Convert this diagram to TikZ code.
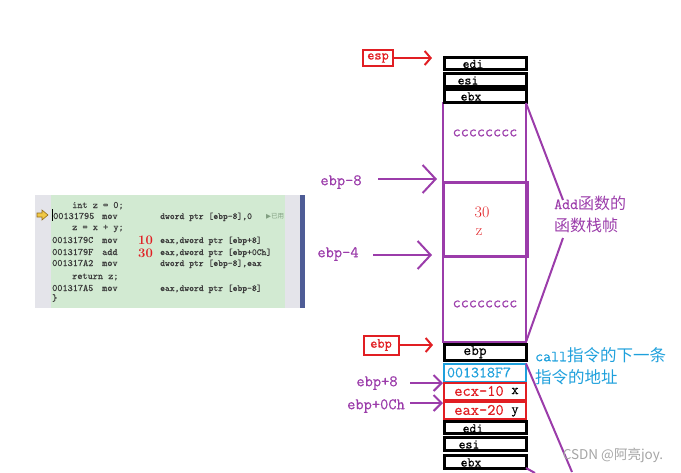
\documentclass[tikz,border=0pt]{standalone}
\usepackage{fontspec}
\newfontfamily\cjk{Noto Sans CJK SC}
\newfontfamily\dejavu{DejaVu Sans}
\newfontfamily\mono{Latin Modern Mono}[FakeBold=0.5]
\newfontfamily\monolight{Latin Modern Mono}[FakeBold=0.5]
\usetikzlibrary{arrows.meta}
\definecolor{purp}{RGB}{155,60,170}
\definecolor{myred}{RGB}{225,30,35}
\definecolor{mycyan}{RGB}{30,160,220}
\definecolor{codegreen}{RGB}{210,234,210}
\definecolor{codegray}{RGB}{228,228,234}
\definecolor{barblue}{RGB}{78,92,150}
\definecolor{wmgray}{RGB}{165,165,165}
\definecolor{codetxt}{RGB}{60,60,60}
\definecolor{tagtxt}{RGB}{130,160,130}
\definecolor{iconfill}{RGB}{240,200,70}
\definecolor{icondraw}{RGB}{150,110,30}
\newcommand\fs[1]{\fontsize{#1}{#1}\selectfont}
\begin{document}
\begin{tikzpicture}[x=1pt,y=-1pt,font=\mono,
  stk/.style={draw=black,line width=3pt,minimum width=82pt,inner sep=0pt,outer sep=0pt},
  lab/.style={font=\mono\fs{13.5},inner sep=0pt},
  redbox/.style={draw=myred,line width=2pt,text=myred,font=\mono\fs{14},inner sep=0pt,outer sep=0pt},
  redarr/.style={draw=myred,line width=2pt,-{Straight Barb[length=6pt,width=14pt]}},
  parr/.style={draw=purp,line width=2pt,-{Straight Barb[length=13pt,width=28pt]}},
  sparr/.style={draw=purp,line width=2pt,-{Straight Barb[length=8pt,width=16pt]}},
  pline/.style={draw=purp,line width=2pt},
  plab/.style={text=purp,font=\mono\fs{16},inner sep=0pt},
  code/.style={anchor=base west,inner sep=0pt,text=codetxt,font=\monolight\fs{9.8}},
  ops/.style={code,font=\monolight\fs{9.2}},
  rnum/.style={anchor=base west,inner sep=0pt,text=myred,font=\bfseries\fs{13}}
]
\useasboundingbox (0,0) rectangle (681,472);

% ---------- code panel ----------
\fill[codegray] (35,195) rectangle (300,308);
\fill[codegreen] (51,195) rectangle (285,308);
\fill[barblue] (300,195) rectangle (305,308);
\filldraw[fill=iconfill,draw=icondraw,line width=0.6pt]
  (37,213) -- (42,213) -- (42,210) -- (48,215) -- (42,220) -- (42,217) -- (37,217) -- cycle;
\draw[black,line width=0.5pt] (52,209) -- (52,221);

\node[code] (c1) at (72,208) {int z = 0;};
\node[code] (c2) at (53,219) {00131795};
\node[code] (c3) at (102,219) {mov};
\node[ops] (c4) at (160,219) {dword ptr [ebp-8],0};
\node[anchor=base west,inner sep=0pt,text=tagtxt,font=\fs{6.5}] (c5) at (266,218) {{\dejavu ▶}{\cjk 已用}};
\node[code] (c6) at (72,230) {z = x + y;};
\node[code] (c7) at (52,243) {0013179C};
\node[code] (c8) at (102,243) {mov};
\node[rnum] (c9) at (138,244) {10};
\node[ops] (c10) at (160,243) {eax,dword ptr [ebp+8]};
\node[code] (c11) at (52,255) {0013179F};
\node[code] (c12) at (102,255) {add};
\node[rnum] (c13) at (138,257) {30};
\node[ops] (c14) at (160,255) {eax,dword ptr [ebp+0Ch]};
\node[code] (c15) at (52,266) {001317A2};
\node[code] (c16) at (102,266) {mov};
\node[ops] (c17) at (160,266) {dword ptr [ebp-8],eax};
\node[code] (c18) at (72,279) {return z;};
\node[code] (c19) at (52,291) {001317A5};
\node[code] (c20) at (102,291) {mov};
\node[ops] (c21) at (160,291) {eax,dword ptr [ebp-8]};
\node[code] (c22) at (52,301) {\}};

% ---------- stack ----------
\node[draw=purp,line width=2pt,minimum width=83pt,minimum height=239pt,inner sep=0pt,outer sep=0pt] (frame) at (484.5,222.5) {};
\node[draw=purp,line width=3pt,minimum width=84pt,minimum height=74pt,inner sep=0pt,outer sep=0pt] (zbox) at (485,219) {};
\node[plab,font=\mono\fs{15.7}] (cc1) at (485,133) {cccccccc};
\node[plab,font=\mono\fs{15.7}] (cc2) at (485,304) {cccccccc};
\node[text=myred,font=\fs{16},inner sep=0pt] (n30) at (482,212) {30};
\node[text=myred,font=\fs{16},inner sep=0pt] (nz) at (479,232) {z};

\node[stk,minimum height=12pt,label={[lab,xshift=-12pt,yshift=-1pt]center:edi}] (edi1) at (485,63) {};
\node[stk,minimum height=13pt,label={[lab,xshift=-17pt,yshift=-1pt]center:esi}] (esi1) at (485,79.5) {};
\node[stk,minimum height=13pt,label={[lab,xshift=-14pt,yshift=-1pt]center:ebx}] (ebx1) at (485,95.5) {};

\node[stk,minimum height=16pt,label={[lab,font=\mono\fs{15},xshift=-10pt]center:ebp}] (ebps) at (485,352) {};
\node[stk,draw=mycyan,line width=2pt,minimum height=18pt,label={[lab,font=\mono\fs{15.5},text=mycyan,xshift=-6pt]center:001318F7}] (cyb) at (485,372.5) {};
\node[stk,draw=myred,line width=2pt,minimum height=17pt,
  label={[lab,font=\mono\fs{16},text=myred,xshift=-6pt]center:ecx-10},
  label={[lab,font=\mono\fs{14},xshift=30pt]center:x}] (ecxb) at (485,391) {};
\node[stk,draw=myred,line width=2pt,minimum height=17pt,
  label={[lab,font=\mono\fs{16},text=myred,xshift=-6pt]center:eax-20},
  label={[lab,font=\mono\fs{14},xshift=30pt,yshift=-2pt]center:y}] (eaxb) at (485,410) {};
\node[stk,minimum height=12pt,label={[lab,xshift=-12pt,yshift=-1pt]center:edi}] (edi2) at (485,427.5) {};
\node[stk,minimum height=13pt,label={[lab,xshift=-16pt,yshift=-1pt]center:esi}] (esi2) at (485,443.5) {};
\node[stk,minimum height=13pt,label={[lab,xshift=-14pt,yshift=-1pt]center:ebx}] (ebx2) at (485,461.5) {};

% ---------- left pointers ----------
\node[redbox,minimum width=30pt,minimum height=16pt] (espb) at (378,58) {esp};
\coordinate (esptip) at (432,58);
\draw[redarr] (espb.east) -- (esptip);

\node[redbox,minimum width=35pt,minimum height=19pt] (ebpb) at (381,345) {ebp};
\coordinate (ebptip) at (433,345);
\draw[redarr] (ebpb.east) -- (ebptip);

\node[plab] (lm8) at (341,182) {ebp-8};
\coordinate (s8) at (378,179);
\coordinate (t8) at (437,179);
\draw[parr] (s8) -- (t8);

\node[plab] (lm4) at (338,254) {ebp-4};
\coordinate (s4) at (373,255);
\coordinate (t4) at (432,255);
\draw[parr] (s4) -- (t4);

\node[plab] (lp8) at (377,383) {ebp+8};
\coordinate (sp8) at (410,383);
\coordinate (tp8) at (443,383);
\draw[sparr] (sp8) -- (tp8);

\node[plab] (lp12) at (376,406) {ebp+0Ch};
\coordinate (sp12) at (410,403);
\coordinate (tp12) at (443,403);
\draw[sparr] (sp12) -- (tp12);

% ---------- right labels ----------
\coordinate (adA) at (563,200);
\coordinate (adB) at (563,238);
\draw[pline] (frame.north east) -- (adA);
\draw[pline] (adB) -- (frame.south east);
\node[plab,anchor=west,font=\mono\fs{15.5}] (add1) at (554,203) {Add{\cjk\fs{16}函数的}};
\node[plab,anchor=west] (add2) at (554,225) {{\cjk\fs{16}函数栈帧}};

\node[anchor=west,inner sep=0pt,text=mycyan,font=\mono\fs{15.5}] (call1) at (535,355) {call{\cjk\fs{16.5}指令的下一条}};
\node[anchor=west,inner sep=0pt,text=mycyan] (call2) at (535,377) {{\cjk\fs{16.5}指令的地址}};

\coordinate (lowend) at (572,472);
\draw[pline] (cyb.north east) -- (lowend);
\coordinate (lowend2) at (535,473);
\draw[pline] (ebx2.south east) -- (lowend2);

\node[text=wmgray,inner sep=0pt,font=\cjk\fs{13.5}] (wm) at (613,455) {CSDN @阿亮joy.};
\end{tikzpicture}
\end{document}
